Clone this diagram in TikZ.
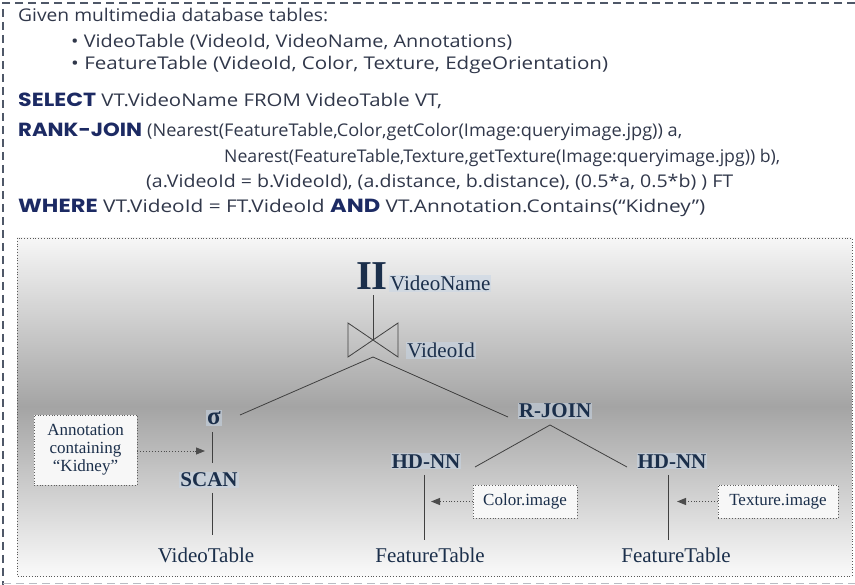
\documentclass[tikz,border=0pt]{standalone}
\usepackage{fontspec}
\usepackage{graphicx}
\setmainfont{Liberation Serif}
\newfontfamily\qfont{Open Sans}
\newfontfamily\kwfont{Poppins}
\usetikzlibrary{arrows.meta}
\definecolor{navy}{HTML}{1B2F4B}
\definecolor{qtxt}{HTML}{30374A}
\definecolor{kwblue}{HTML}{1C2A63}
\definecolor{framec}{HTML}{4F5868}
\definecolor{linegray}{HTML}{404040}
\definecolor{glow}{HTML}{C8D6E6}
\definecolor{shtop}{HTML}{F6F6F6}
\definecolor{shmid}{HTML}{A4A4A4}
\definecolor{shbot}{HTML}{FAFAFA}
\newcommand\fitw[2]{\resizebox{#1}{\height}{#2}}
\newcommand\KW[1]{{\kwfont\bfseries\fontsize{19}{20}\selectfont\color{kwblue}#1}}
\begin{document}
\begin{tikzpicture}[x=1pt,y=-1pt,
  qtext/.style={font=\qfont\fontsize{17.5}{20}\selectfont, text=qtxt, inner sep=0pt, anchor=base west},
  treelbl/.style={font=\fontsize{21}{24}\selectfont, text=navy, inner sep=1pt},
  oplbl/.style={font=\bfseries\fontsize{21}{24}\selectfont, text=navy, inner sep=1pt, fill=glow, fill opacity=.55, text opacity=1},
  treeline/.style={draw=linegray, line width=0.8pt},
  note/.style={draw=gray!75!black, dotted, line width=0.8pt, fill=white!94!gray, font=\fontsize{17}{18}\selectfont, text=navy, align=center, inner sep=0pt},
  dotarr/.style={draw=gray!60!black, dotted, line width=0.9pt, -{Triangle[length=9pt,width=7pt]}}
]
\useasboundingbox (0,0) rectangle (855,585);
% outer frame
\draw[framec, line width=1.3pt, dash pattern=on 8pt off 5pt] (855,3) -- (3,3) -- (3,585);
\draw[framec!40, line width=1pt, dash pattern=on 8pt off 5pt] (3,583) -- (855,583);
% query text
\node[qtext] (l1) at (18,22) {\fitw{310pt}{Given multimedia database tables:}};
\node[qtext] (l2) at (71,48) {\fitw{441pt}{•\ VideoTable (VideoId, VideoName, Annotations)}};
\node[qtext] (l3) at (71,70) {\fitw{537pt}{•\ FeatureTable (VideoId, Color, Texture, EdgeOrientation)}};
\node[qtext] (l4) at (18,107) {\fitw{424pt}{\KW{SELECT}\ VT.VideoName FROM VideoTable VT,}};
\node[qtext] (l5k) at (18,137) {\fitw{124pt}{\KW{RANK-JOIN}}};
\node[qtext] (l5) at (147,137) {\fitw{535pt}{(Nearest(FeatureTable,Color,getColor(Image:queryimage.jpg)) a,}};
\node[qtext] (l6) at (224,163) {\fitw{556pt}{Nearest(FeatureTable,Texture,getTexture(Image:queryimage.jpg)) b),}};
\node[qtext] (l7) at (146,188) {\fitw{587pt}{(a.VideoId = b.VideoId), (a.distance, b.distance), (0.5*a, 0.5*b) ) FT}};
\node[qtext] (l8) at (18,213) {\fitw{687pt}{\KW{WHERE}\ VT.VideoId = FT.VideoId \KW{AND}\ VT.Annotation.Contains(“Kidney”)}};
% diagram panel
\shade[top color=shtop, bottom color=shbot, middle color=shmid] (17,238) rectangle (852,576);
\draw[gray!70!black, dotted, line width=0.8pt] (17,238) rectangle (852,576);
% tree
\node[font=\bfseries\fontsize{41}{44}\selectfont, text=navy, inner sep=0pt, anchor=base] (pi) at (372,290) {II};
\node[treelbl, fill=glow, fill opacity=.55, text opacity=1, anchor=base west] (vname) at (389,291) {VideoName};
\coordinate (btc) at (373,340);
\coordinate (bta) at (373,357);
\draw[treeline] (348,323) -- (398,357) -- (398,323) -- (348,357) -- cycle;
\node[treelbl, fill=glow, fill opacity=.55, text opacity=1, anchor=base west] (vid) at (406,358) {VideoId};
\draw[treeline] (pi.south) ++(1,5) -- (btc);
\node[oplbl, font=\bfseries\fontsize{25}{26}\selectfont] (sigma) at (214,418) {σ};
\node[oplbl, anchor=base] (scan) at (209,487) {SCAN};
\node[treelbl, anchor=base] (vt) at (206,562) {VideoTable};
\node[oplbl, anchor=base] (rjoin) at (555,418) {R-JOIN};
\node[oplbl, anchor=base] (hd1) at (426,468) {HD-NN};
\node[oplbl, anchor=base] (hd2) at (672,468) {HD-NN};
\node[treelbl, anchor=base] (ft1) at (430,562) {FeatureTable};
\node[treelbl, anchor=base] (ft2) at (676,562) {FeatureTable};
\draw[treeline] (bta) -- ([shift={(26,-3)}]sigma.center);
\draw[treeline] (bta) -- ([shift={(-47,-1)}]rjoin.base);
\draw[treeline] ([shift={(-2,14)}]sigma.center) -- ([shift={(3,-24)}]scan.base);
\draw[treeline] ([shift={(3,6)}]scan.base) -- ([shift={(6,-27)}]vt.base);
\draw[treeline] ([shift={(-5,7)}]rjoin.base) -- ([shift={(49,-1)}]hd1.base);
\draw[treeline] ([shift={(-5,7)}]rjoin.base) -- ([shift={(-45,-1)}]hd2.base);
\draw[treeline] ([shift={(-2,7)}]hd1.base) -- ([shift={(-6,-22)}]ft1.base);
\draw[treeline] ([shift={(-4,7)}]hd2.base) -- ([shift={(-8,-22)}]ft2.base);
% notes
\node[note, minimum width=103pt, minimum height=70pt] (ann) at (85.5,450) {Annotation\\containing\\“Kidney”};
\node[note, minimum width=104pt, minimum height=33pt] (cimg) at (525,501.5) {Color.image};
\node[note, minimum width=120pt, minimum height=33pt] (timg) at (778,501.5) {Texture.image};
\coordinate (annT) at (205,451);
\coordinate (cT) at (431,501.5);
\coordinate (tT) at (677,501.5);
\draw[dotarr] (ann.east |- annT) -- (annT);
\draw[dotarr] (cimg.west) -- (cT);
\draw[dotarr] (timg.west) -- (tT);
\end{tikzpicture}
\end{document}
